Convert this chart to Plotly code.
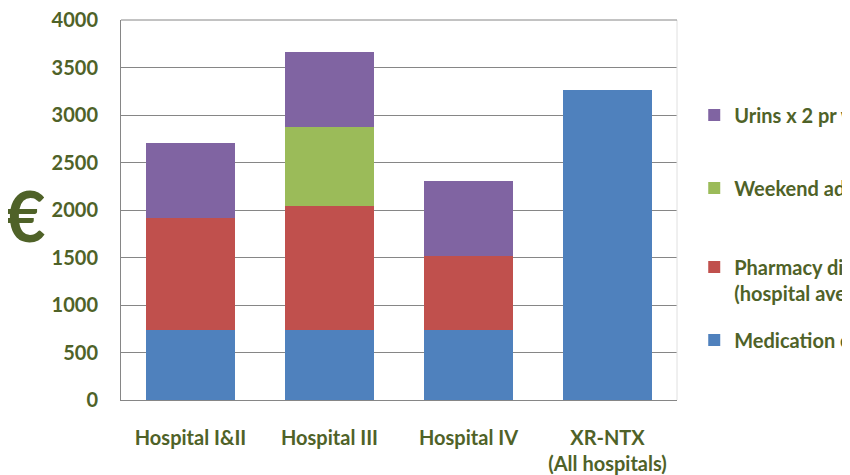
import plotly.graph_objects as go

categories = ["Hospital I&II", "Hospital III", "Hospital IV", "XR-NTX<br>(All hospitals)"]
medication = [735, 735, 735, 3265]
pharmacy = [1185, 1310, 780, None]
weekend = [None, 830, None, None]
urins = [787, 787, 787, None]
y_ticks = [0, 500, 1000, 1500, 2000, 2500, 3000, 3500, 4000]

names = ["Medication cost", "Pharmacy dispensing<br>(hospital average)",
         "Weekend administration", "Urins x 2 pr week"]
colors = ["#4F81BD", "#C0504D", "#9BBB59", "#8064A2"]
series = [medication, pharmacy, weekend, urins]
legends = ["legend4", "legend3", "legend2", "legend"]

GREEN = "#4F6228"
FONT = "Lato"
FS = 20

fig = go.Figure()
for name, col, vals, lg in zip(names, colors, series, legends):
    fig.add_trace(go.Bar(x=categories, y=vals, name=name, legend=lg, showlegend=True,
                         marker=dict(color=col, line=dict(width=0))))

lfont = dict(family=FONT, size=FS, color=GREEN, weight="bold")
common = dict(x=1.031, xanchor="left", bgcolor="rgba(0,0,0,0)", font=lfont,
              borderwidth=0, itemclick=False, visible=True)

fig.update_layout(
    width=850, height=475,
    margin=dict(l=113, r=181, t=12, b=83, autoexpand=False),
    paper_bgcolor="white", plot_bgcolor="white",
    barmode="stack", bargap=0.36, showlegend=True,
    font=dict(family=FONT, size=FS, color=GREEN),
    legend=dict(y=0.75, yanchor="middle", **common),
    legend2=dict(y=0.558, yanchor="middle", **common),
    legend3=dict(y=0.316, yanchor="middle", valign="top", **common),
    legend4=dict(y=0.158, yanchor="middle", **common),
    xaxis=dict(showline=True, linecolor="#868686", linewidth=1, showgrid=False,
               tickfont=dict(family=FONT, size=FS, color=GREEN, weight="bold"),
               ticks="", ticklabelstandoff=20),
    yaxis=dict(range=[0, 4000], tickmode="array", tickvals=y_ticks,
               showgrid=True, gridcolor="#868686", ticklabeloverflow="allow",
               gridwidth=1, showline=True, linecolor="#868686", linewidth=1,
               zeroline=False, ticks="", ticklabelstandoff=18,
               tickfont=dict(family=FONT, size=FS, color=GREEN, weight="bold")),
    shapes=[dict(type="line", xref="paper", yref="paper", x0=1, x1=1, y0=0, y1=1,
                 line=dict(color="#E0E0E0", width=1), layer="above"),
            dict(type="line", xref="paper", yref="paper", x0=0, x1=1, y0=1, y1=1,
                 line=dict(color="#868686", width=1), layer="above")],
    annotations=[dict(text="€", xref="paper", yref="paper", x=-0.171, y=0.487,
                      xanchor="center", yanchor="middle", showarrow=False,
                      font=dict(family=FONT, size=70, color=GREEN, weight="bold"))],
)

fig.write_html("out.html")
